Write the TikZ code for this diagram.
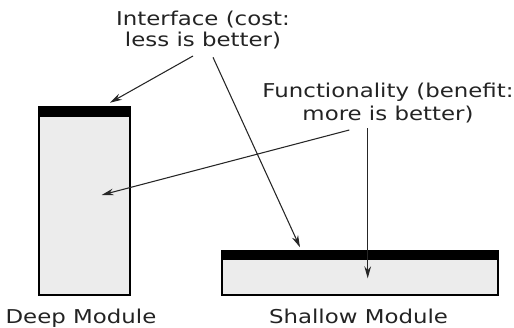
\documentclass[tikz,border=0pt]{standalone}
\usepackage{fontspec}
\setmainfont[FakeStretch=1.2]{DejaVu Sans}
\usetikzlibrary{arrows.meta}
\definecolor{modfill}{RGB}{236,236,236}
\definecolor{txtgray}{RGB}{35,35,35}
\tikzset{
  module/.style={draw=black, line width=1.4pt, fill=modfill},
  ifbar/.style={fill=black, draw=black, line width=1.4pt},
  lbl/.style={inner sep=0pt, align=center, text=txtgray, font=\fontsize{14.3}{15.5}\selectfont, anchor=base},
  pointer/.style={draw=black!85, line width=0.8pt, -{Stealth[length=9pt,width=5pt]}}
}
\begin{document}
\begin{tikzpicture}[x=0.75pt,y=-0.75pt]
\useasboundingbox (0,0) rectangle (514,328);
% deep module
\draw[module] (38.7,106.7) rectangle (130.3,294.7);
\draw[ifbar] (38.7,106.7) rectangle (130.3,115.7);
% shallow module
\draw[module] (221.7,250.7) rectangle (497.7,295.3);
\draw[ifbar] (221.7,250.7) rectangle (497.7,259.3);
% labels (base anchor = baseline of last line)
\node[lbl] (iface) at (203,46.5) {Interface (cost:\\less is better)};
\node[lbl, font=\fontsize{14.3}{17}\selectfont] (func) at (388,120.5) {Functionality (benefit:\\more is better)};
\node[lbl] (deep) at (81,323) {Deep Module};
\node[lbl] (shallow) at (358.5,323) {Shallow Module};
% arrow end points
\coordinate (i1) at (193,56);
\coordinate (i2) at (213,57.3);
\coordinate (deeptop) at (110,102.7);
\coordinate (shallowtop) at (300,247.3);
\coordinate (f1) at (349.3,130);
\coordinate (f2) at (367.7,128.3);
\coordinate (deepbody) at (101.7,195);
\coordinate (shallowbody) at (367.7,278.3);
\draw[pointer] (i1) -- (deeptop);
\draw[pointer] (i2) -- (shallowtop);
\draw[pointer] (f1) -- (deepbody);
\draw[pointer] (f2) -- (shallowbody);
\end{tikzpicture}
\end{document}
